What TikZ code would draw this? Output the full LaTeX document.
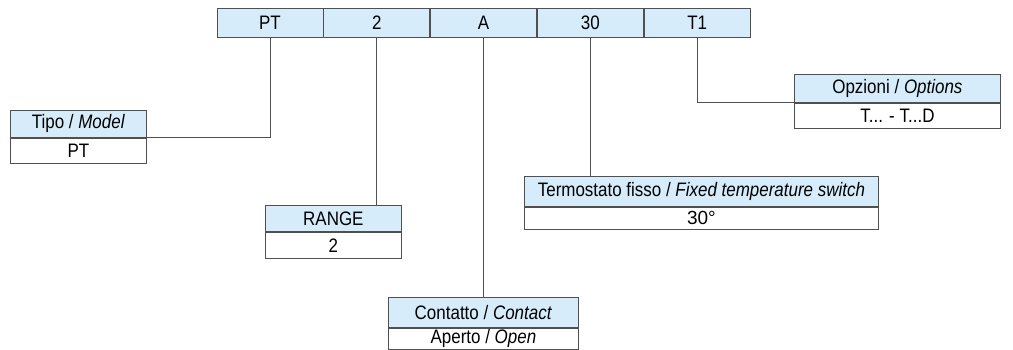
\documentclass[tikz,border=0pt]{standalone}
\usepackage{fontspec}
\setmainfont{Liberation Sans}
\newfontfamily\codefont[FakeStretch=0.87]{Liberation Sans}
\usetikzlibrary{positioning}
\definecolor{hdrblue}{RGB}{214, 236, 250}
\definecolor{linegray}{RGB}{80, 80, 80}

\begin{document}
\begin{tikzpicture}[x=1pt, y=-1pt,
  node distance=0pt,
  cell/.style={draw=linegray, fill=hdrblue, line width=0.8pt, minimum width=106pt,
               minimum height=29pt, inner sep=0pt, font=\codefont\fontsize{19.5}{21}\selectfont},
  hdr/.style={draw=linegray, fill=hdrblue, line width=0.8pt, inner sep=0pt,
              anchor=north west, font=\codefont\fontsize{19.5}{21}\selectfont},
  val/.style={draw=linegray, fill=white, line width=0.8pt, inner sep=0pt,
              font=\codefont\fontsize{19.5}{21}\selectfont},
  link/.style={draw=linegray, line width=0.8pt},
]
  \useasboundingbox (0,0) rectangle (1013,350);

  % code bar
  \node[cell] (pt) at (270,23) {PT};
  \node[cell, right=of pt] (rng) {2};
  \node[cell, right=of rng] (ctc) {A};
  \node[cell, right=of ctc] (tmp) {30};
  \node[cell, right=of tmp] (opt) {T1};

  % boxes
  \node[hdr, minimum width=136pt, minimum height=27pt] (tipo) at (10,110) {Tipo / \textit{Model}};
  \node[val, below=of tipo, minimum width=136pt, minimum height=25pt] (tipov) {PT};

  \node[hdr, minimum width=136pt, minimum height=26pt] (range) at (265,205) {RANGE};
  \node[val, below=of range, minimum width=136pt, minimum height=26pt] (rangev) {2};

  \node[hdr, minimum width=190pt, minimum height=30pt] (cont) at (388,297) {Contatto / \textit{Contact}};
  \node[val, below=of cont, minimum width=190pt, minimum height=21pt] (contv) {Aperto / \textit{Open}};

  \node[hdr, minimum width=354pt, minimum height=30pt] (term) at (524,176) {Termostato fisso / \textit{Fixed temperature switch}};
  \node[val, below=of term, minimum width=354pt, minimum height=22pt, font=\fontsize{19}{21}\selectfont] (termv) {30°};

  \node[hdr, minimum width=206pt, minimum height=28pt] (opz) at (794,74) {Opzioni / \textit{Options}};
  \node[val, below=of opz, minimum width=206pt, minimum height=25pt] (opzv) {T... - T...D};

  % connectors
  \draw[link] (pt.south) |- (tipo.south east);
  \draw[link] (rng.south) -- (rng.south |- range.north);
  \draw[link] (ctc.south) -- (ctc.south |- cont.north);
  \draw[link] (tmp.south) -- (tmp.south |- term.north);
  \draw[link] (opt.south) |- (opz.south west);
\end{tikzpicture}
\end{document}
